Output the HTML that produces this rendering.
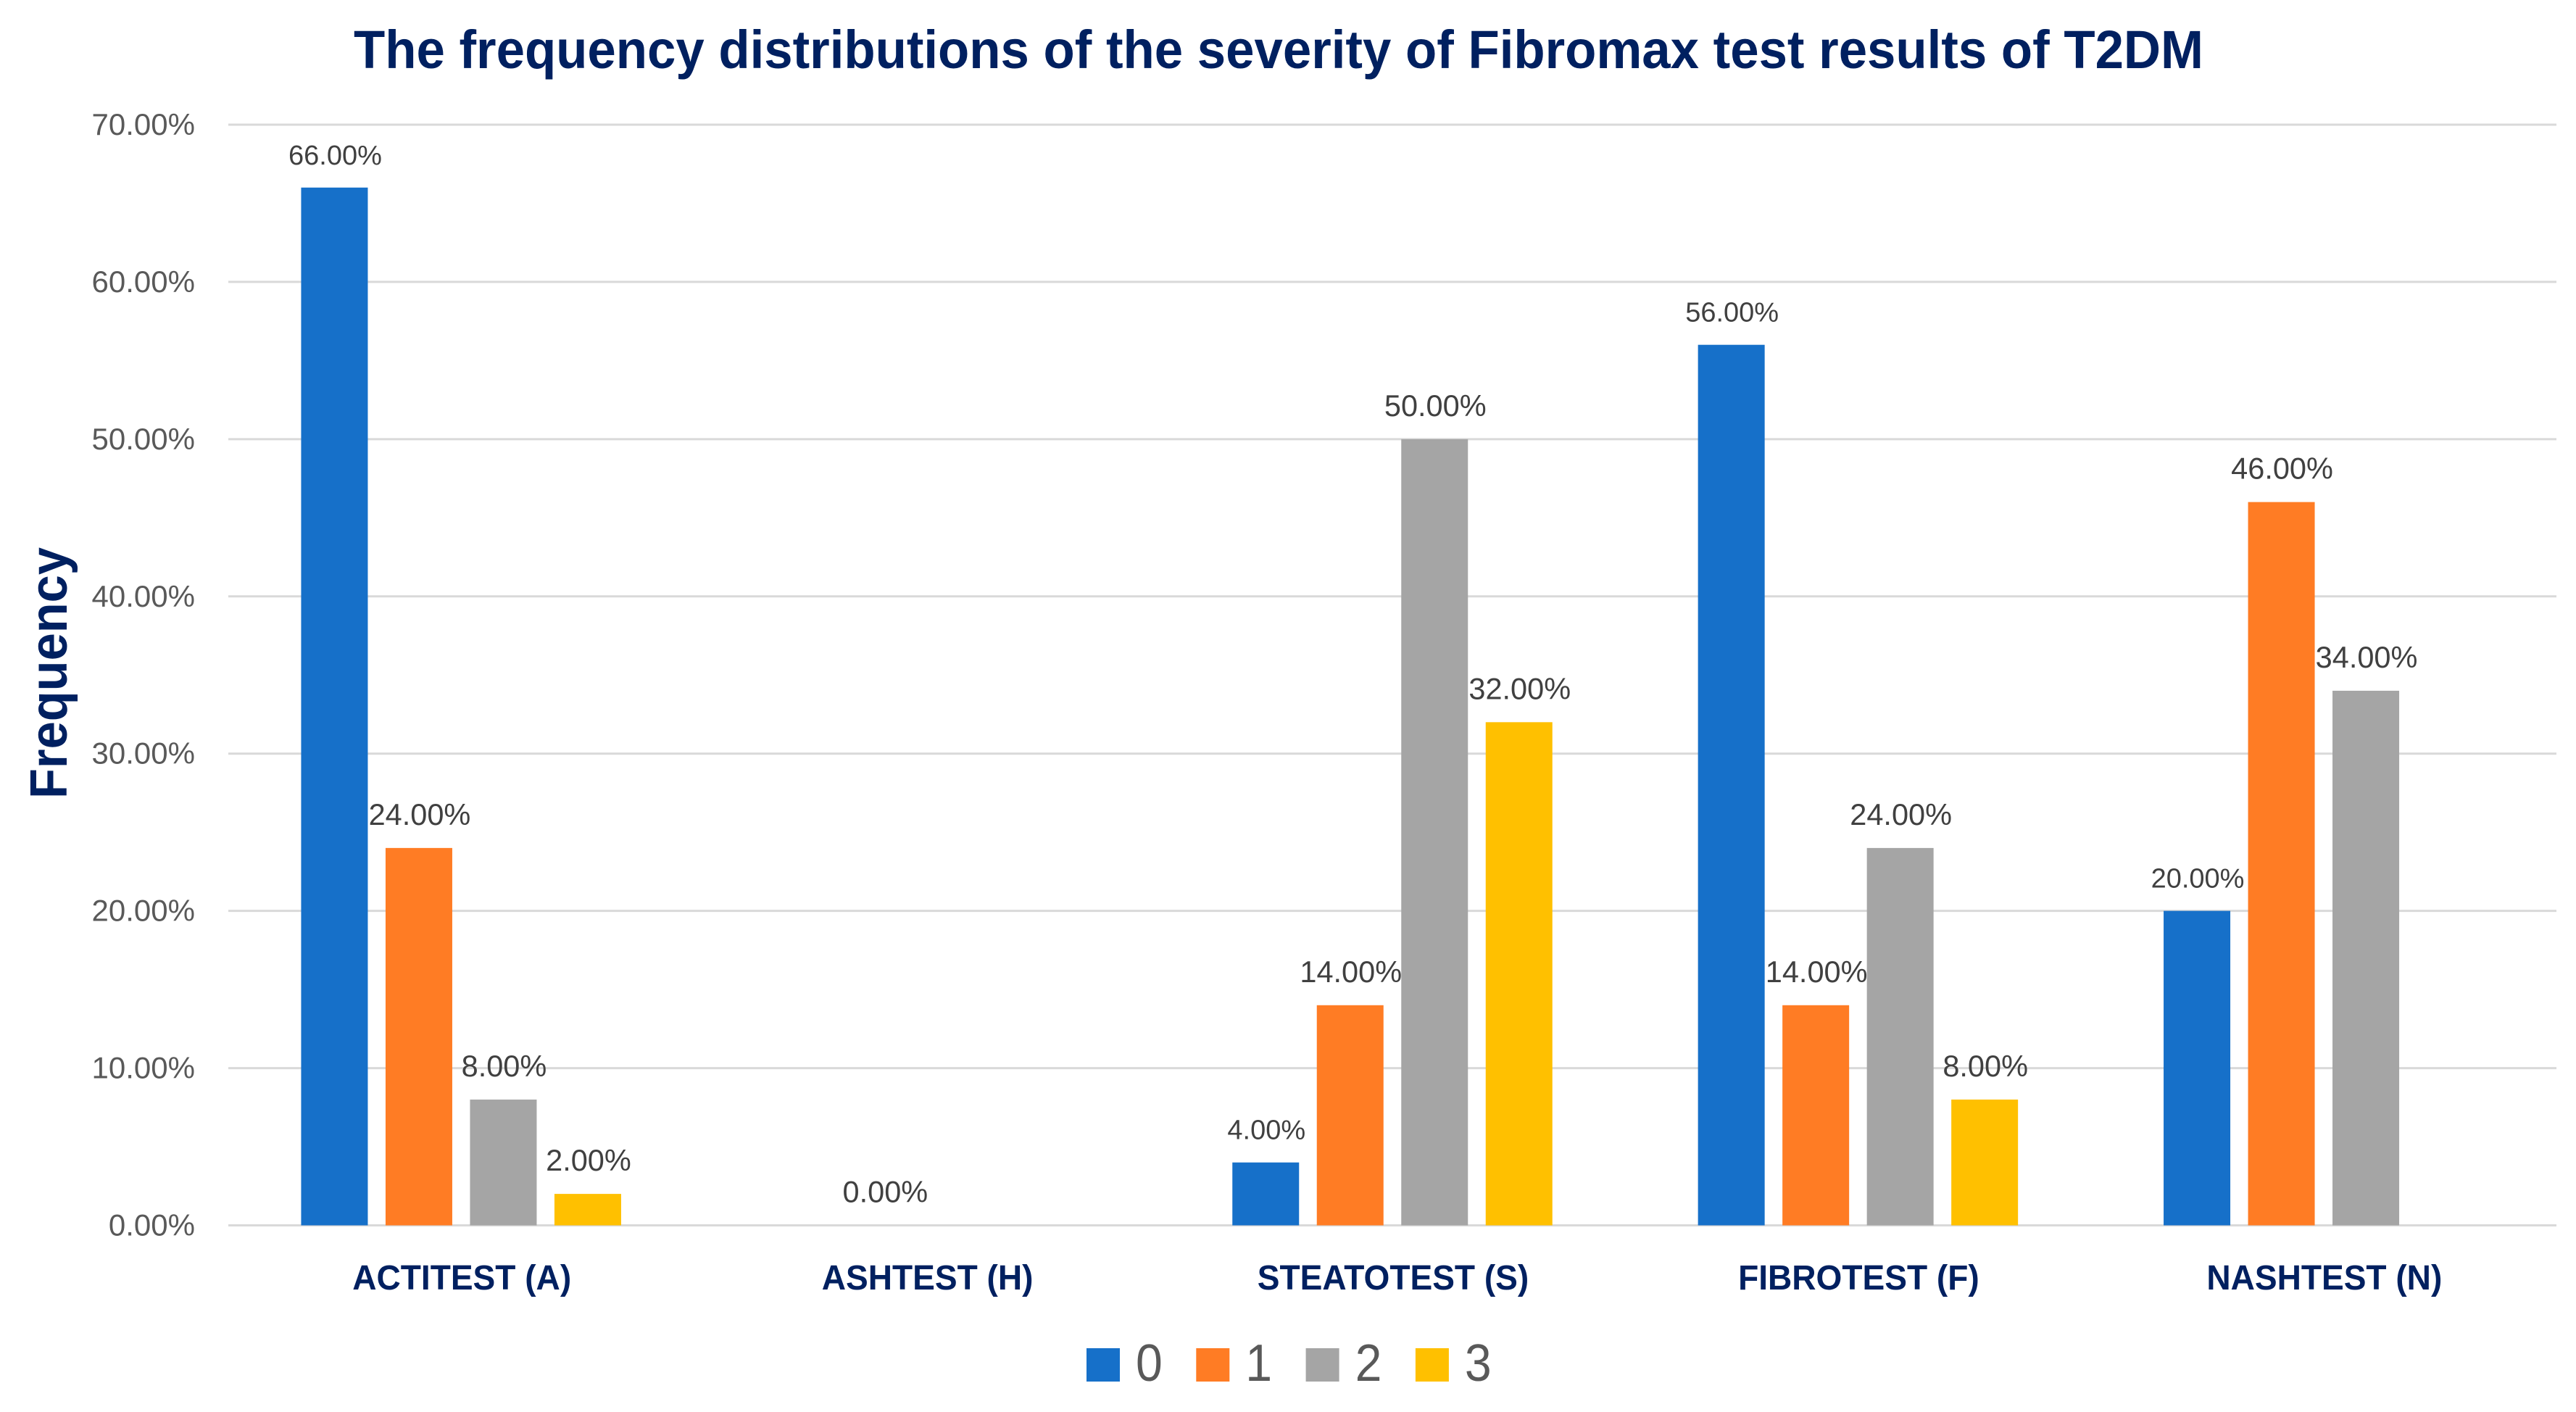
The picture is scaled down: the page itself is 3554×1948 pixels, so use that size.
<!DOCTYPE html>
<html lang="en">
<head>
<meta charset="utf-8">
<title>The frequency distributions of the severity of Fibromax test results of T2DM</title>
<style>
html,body{margin:0;padding:0;background:#fff;width:3554px;height:1948px;overflow:hidden}
svg{display:block}
text{font-family:"Liberation Sans",Arial,sans-serif}
</style>
</head>
<body>
<svg id="chart" xmlns="http://www.w3.org/2000/svg" width="3554" height="1948" viewBox="0 0 3554 1948">
  <rect x="0" y="0" width="3554" height="1948" fill="#ffffff"/>
  <text x="488" y="94" font-size="74" font-weight="700" fill="#002060" textLength="2552" lengthAdjust="spacingAndGlyphs">The frequency distributions of the severity of Fibromax test results of T2DM</text>
  <text transform="translate(92,1102) rotate(-90)" font-size="72" font-weight="700" fill="#002060" textLength="347" lengthAdjust="spacingAndGlyphs">Frequency</text>
  <g id="grid"></g>
  <g id="yticks"></g>
  <g id="bars"></g>
  <g id="labels"></g>
  <g id="xticks"></g>
  <g id="legend"></g>
</svg>
<script>
const categories = ["ACTITEST (A)", "ASHTEST (H)", "STEATOTEST (S)", "FIBROTEST (F)", "NASHTEST (N)"];
const seriesNames = ["0", "1", "2", "3"];
const series0 = [66, null, 4, 56, 20];
const series1 = [24, 0, 14, 14, 46];
const series2 = [8, null, 50, 24, 34];
const series3 = [2, null, 32, 8, null];
const tickValues = [0, 10, 20, 30, 40, 50, 60, 70];

const allSeries = [series0, series1, series2, series3];
const colors = ["#1670C9", "#FF7C24", "#A5A5A5", "#FFC000"];
const NS = "http://www.w3.org/2000/svg";
const plotLeft = 315, plotRight = 3527, yZero = 1690.5, yTop = 172;
const barWidth = 92, barPitch = 116.5;

function yScale(v) {
  return yZero - (v / 70) * (yZero - yTop);
}
function categoryCenter(c) {
  return plotLeft + (c + 0.5) * (plotRight - plotLeft) / categories.length;
}
function barCenter(c, s) {
  return categoryCenter(c) + (s - 1.5) * barPitch;
}
function pct(v) {
  return v.toFixed(2) + "%";
}
function make(tag, parent) {
  const el = document.createElementNS(NS, tag);
  parent.appendChild(el);
  return el;
}

const gridG = document.getElementById("grid");
const ytickG = document.getElementById("yticks");
tickValues.forEach(function (t) {
  const line = make("line", gridG);
  
  
  line.setAttribute("x1", plotLeft);
  line.setAttribute("x2", plotRight);
  line.setAttribute("y1", yScale(t));
  line.setAttribute("y2", yScale(t));
  line.setAttribute("stroke", "#D9D9D9");
  line.setAttribute("stroke-width", "3");

  const label = make("text", ytickG);
  
  
  label.setAttribute("x", 269);
  label.setAttribute("y", yScale(t) + 14);
  label.setAttribute("text-anchor", "end");
  label.setAttribute("font-size", "42");
  label.setAttribute("fill", "#595959");
  label.textContent = pct(t);
});

const barG = document.getElementById("bars");
const labelG = document.getElementById("labels");
allSeries.forEach(function (values, s) {
  values.forEach(function (v, c) {
    if (v === null) return;
    const cx = barCenter(c, s);
    if (v > 0) {
      const bar = make("rect", barG);
      
      
      bar.setAttribute("x", cx - barWidth / 2);
      bar.setAttribute("y", yScale(v));
      bar.setAttribute("width", barWidth);
      bar.setAttribute("height", yZero - yScale(v));
      bar.setAttribute("fill", colors[s]);
    }
    const text = make("text", labelG);
    
    
    text.setAttribute("x", cx + 1);
    text.setAttribute("y", yScale(v) - 32);
    text.setAttribute("text-anchor", "middle");
    text.setAttribute("font-size", s === 0 ? "38" : "41.5");
    text.setAttribute("fill", "#404040");
    text.textContent = pct(v);
  });
});

const xtickG = document.getElementById("xticks");
categories.forEach(function (name, c) {
  const text = make("text", xtickG);
  
  
  text.setAttribute("transform", "translate(" + (categoryCenter(c) + 1) + ",1779) scale(0.96,1)");
  text.setAttribute("text-anchor", "middle");
  text.setAttribute("font-size", "48");
  text.setAttribute("font-weight", "700");
  text.setAttribute("fill", "#002060");
  text.textContent = name;
});

const legendG = document.getElementById("legend");
seriesNames.forEach(function (name, s) {
  const x = 1499 + s * 151.3;
  const swatch = make("rect", legendG);
  
  
  swatch.setAttribute("x", x);
  swatch.setAttribute("y", 1860);
  swatch.setAttribute("width", 46);
  swatch.setAttribute("height", 46);
  swatch.setAttribute("fill", colors[s]);

  const text = make("text", legendG);
  
  
  text.setAttribute("transform", "translate(" + (x + 68) + ",1905) scale(0.92,1)");
  text.setAttribute("font-size", "72");
  text.setAttribute("fill", "#595959");
  text.textContent = name;
});
</script>
</body>
</html>
